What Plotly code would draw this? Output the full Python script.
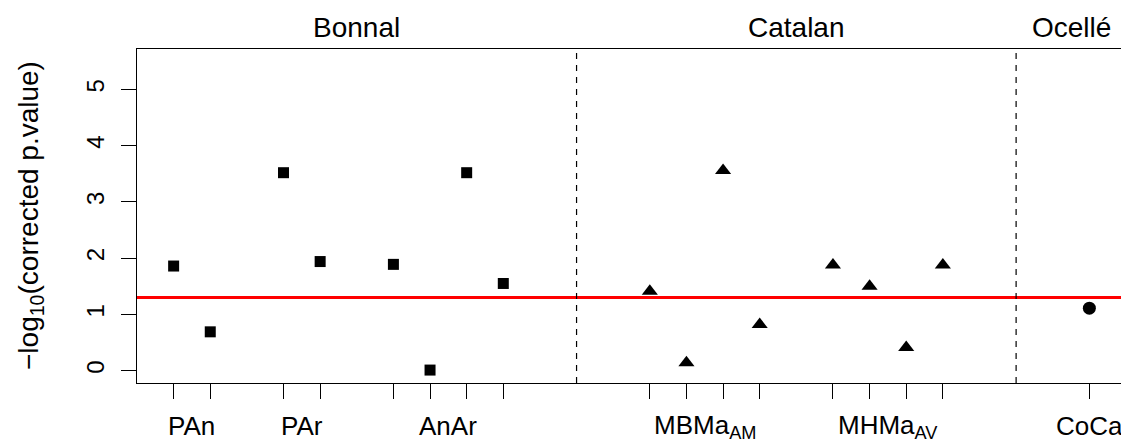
import plotly.graph_objects as go

# ---- data ----
bonnal_x = [1, 2, 4, 5, 7, 8, 9, 10]
bonnal_y = [1.86, 0.69, 3.52, 1.94, 1.89, 0.01, 3.52, 1.55]
catalan_x = [14, 15, 16, 17, 19, 20, 21, 22]
catalan_y = [1.41, 0.14, 3.56, 0.82, 1.88, 1.50, 0.41, 1.88]
ocelle_x = [26]
ocelle_y = [1.11]

threshold = 1.301  # -log10(0.05)
separators = [12, 24]

label_pos = [1.5, 4.5, 8.5, 15.5, 20.5, 26]
label_text = ["PAn", "PAr", "AnAr", "MBMa<sub>AM</sub>", "MHMa<sub>AV</sub>", "CoCa"]
tick_pos = bonnal_x + catalan_x + ocelle_x

group_pos = [6, 18, 25.5]
group_text = ["Bonnal", "Catalan", "Ocellé"]

y_ticks = [0, 1, 2, 3, 4, 5]
y_title = "\u2212log<sub>10</sub>(corrected p.value)"
x_range = [0, 27]
y_range = [-0.22, 5.72]

FONT = "Liberation Sans, Arial, Helvetica, sans-serif"

fig = go.Figure()

# threshold line
fig.add_trace(go.Scatter(x=x_range, y=[threshold, threshold], mode="lines",
                         line=dict(color="#ff0000", width=3), showlegend=False,
                         hoverinfo="skip"))
# separators
for s in separators:
    fig.add_trace(go.Scatter(x=[s, s], y=y_range, mode="lines",
                             line=dict(color="black", width=1.2, dash="6px,6px"),
                             showlegend=False, hoverinfo="skip"))

fig.add_trace(go.Scatter(x=bonnal_x, y=bonnal_y, mode="markers",
                         marker=dict(symbol="square", size=11, color="black"),
                         showlegend=False))
fig.add_trace(go.Scatter(x=catalan_x, y=catalan_y, mode="markers",
                         marker=dict(symbol="triangle-up", size=14, color="black"),
                         showlegend=False))
fig.add_trace(go.Scatter(x=ocelle_x, y=ocelle_y, mode="markers",
                         marker=dict(symbol="circle", size=13, color="black"),
                         showlegend=False))

annotations = []
for p, t in zip(label_pos, label_text):
    annotations.append(dict(x=p, y=0, xref="x", yref="paper", text=t,
                            showarrow=False, yanchor="middle", yshift=-43,
                            font=dict(family=FONT, size=26, color="black")))
for p, t in zip(group_pos, group_text):
    annotations.append(dict(x=p, y=1, xref="x", yref="paper", text=t,
                            showarrow=False, yanchor="middle", yshift=22,
                            font=dict(family=FONT, size=28, color="black")))
annotations.append(dict(x=0, y=0.5, xref="paper", yref="paper", text=y_title,
                        showarrow=False, xanchor="center", yanchor="middle",
                        xshift=-107, textangle=-90,
                        font=dict(family=FONT, size=28, color="black")))

fig.update_layout(
    width=1129, height=441,
    margin=dict(l=129, r=11, t=41, b=66, pad=0),
    paper_bgcolor="white", plot_bgcolor="white",
    font=dict(family=FONT, size=20, color="black"),
    annotations=annotations,
    xaxis=dict(range=x_range, tickmode="array", tickvals=tick_pos,
               ticktext=[""] * len(tick_pos), ticks="outside", ticklen=15,
               tickcolor="black", tickwidth=1.2, showgrid=False, zeroline=False,
               showline=True, linecolor="black", linewidth=1.2, mirror=True,
               automargin=False),
    yaxis=dict(range=y_range, tickmode="array", tickvals=y_ticks,
               ticks="outside", ticklen=15, tickcolor="black", tickwidth=1.2,
               tickangle=-90, tickfont=dict(size=24), ticklabelstandoff=7,
               showgrid=False, zeroline=False,
               showline=True, linecolor="black", linewidth=1.2, mirror=True,
               automargin=False),
)

fig.write_html("out.html")
